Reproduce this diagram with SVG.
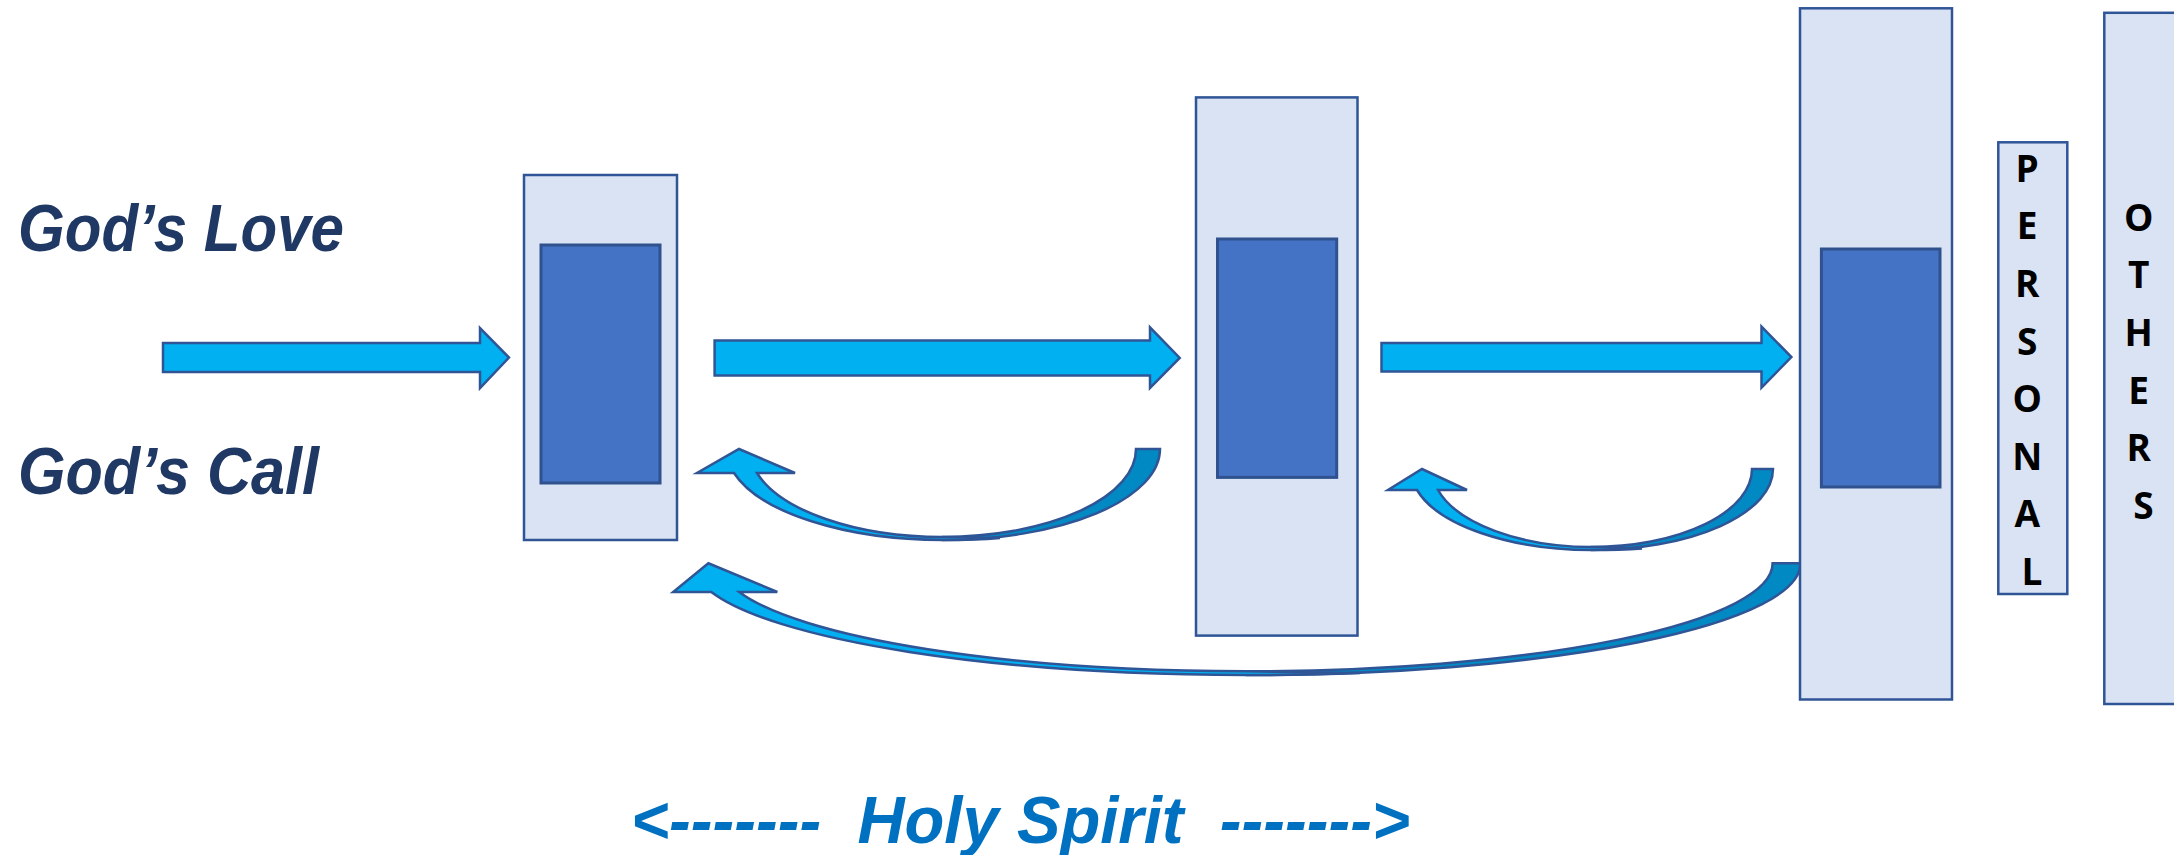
<svg xmlns="http://www.w3.org/2000/svg" width="2174" height="855" viewBox="0 0 2174 855">
<style>
.outer{fill:#DAE3F3;stroke:#2F5597;stroke-width:2.5}
.inner{fill:#4472C4;stroke:#2F528F;stroke-width:3}
.arrow{fill:#00B0F0;stroke:#2F5597;stroke-width:2.5;stroke-linejoin:miter}
.dark{fill:#0089C2;stroke:#2F5597;stroke-width:2.5}
.big{font-family:"Liberation Sans",Arial,sans-serif;font-weight:bold;font-style:italic;font-size:66px}
.love{fill:#1F3864}
.spirit{fill:#0070C0}
.letters{font-family:"Open Sans","Liberation Sans",sans-serif;font-weight:bold;font-size:37px;fill:#000;text-anchor:middle}
</style>
<rect width="2174" height="855" fill="#FFFFFF"/>

<g id="label-love"><text class="big love" x="18" y="251" textLength="326" lengthAdjust="spacingAndGlyphs">God’s Love</text></g>
<g id="label-call"><text class="big love" x="18" y="494" textLength="301" lengthAdjust="spacingAndGlyphs">God’s Call</text></g>

<g id="connectors">
  <polygon id="arrow1" class="arrow" points="163,343 480,343 480,328 509,357.5 480,388 480,372 163,372"/>
  <polygon id="arrow2" class="arrow" points="714.6,340.4 1150,340.4 1150,327.4 1179.7,358 1150,388 1150,375.6 714.6,375.6"/>
  <polygon id="arrow3" class="arrow" points="1381.5,343 1761.5,343 1761.5,326.6 1791.4,357 1761.5,387.6 1761.5,371.6 1381.5,371.6"/>

  <g id="curve1">
    <path class="dark" d="M1136,449 L1160,449 A217,91 0 0 1 943,540 L943,537 A193,88 0 0 0 1136,449 Z"/>
    <path class="arrow" d="M757,473 L795,473 L739,449 L697,473 L734,473 A217,91 0 0 0 943,540 Q975,540 1000,538 Q970,537.5 943,537 A193,88 0 0 1 757,473 Z"/>
  </g>
  <g id="curve2">
    <path class="dark" d="M1752,469 L1773,469 A181,81 0 0 1 1592,550 L1592,547 A160,78 0 0 0 1752,469 Z"/>
    <path class="arrow" d="M1438,490 L1467,490 L1422,469 L1388,490 L1417,490 A181,81 0 0 0 1592,550 Q1620,550 1642,548.5 Q1615,547.5 1592,547 A160,78 0 0 1 1438,490 Z"/>
  </g>
  <g id="curve3">
    <path class="dark" d="M1772.6,563.3 L1800.5,563.3 A553.5,111.7 0 0 1 1247,675 L1247,671.3 A526,108 0 0 0 1772.6,563.3 Z"/>
    <path class="arrow" d="M739.2,592 L777.3,592 L708.4,563.3 L673.2,592 L711.3,592 A553.5,111.7 0 0 0 1247,675 Q1310,675 1360,673 Q1300,672 1247,671.3 A526,108 0 0 1 739.2,592 Z"/>
  </g>
</g>

<g id="box1">
  <rect class="outer" x="524" y="175" width="153" height="365"/>
  <rect class="inner" x="541" y="245" width="119" height="238"/>
</g>
<g id="box2">
  <rect class="outer" x="1196" y="97.4" width="161.5" height="538.2"/>
  <rect class="inner" x="1217.5" y="239" width="119.2" height="238.4"/>
</g>
<g id="box3">
  <rect class="outer" x="1800" y="8.3" width="152" height="691.2"/>
  <rect class="inner" x="1821.4" y="249" width="118.6" height="238"/>
</g>
<g id="personal">
  <rect class="outer" x="1998.3" y="142.3" width="69" height="451.7"/>
  <text class="letters" x="2032">
    <tspan x="2032" y="181.7">P</tspan>
    <tspan x="2032" y="239.3">E</tspan>
    <tspan x="2032" y="296.9">R</tspan>
    <tspan x="2032" y="354.5">S</tspan>
    <tspan x="2032" y="412.1">O</tspan>
    <tspan x="2032" y="469.7">N</tspan>
    <tspan x="2032" y="527.3">A</tspan>
    <tspan x="2032" y="584.9">L</tspan>
  </text>
</g>
<g id="others">
  <rect class="outer" x="2104.3" y="12.8" width="80" height="691.2"/>
  <text class="letters" x="2143.5">
    <tspan x="2143.5" y="230.5">O</tspan>
    <tspan x="2143.5" y="288.2">T</tspan>
    <tspan x="2143.5" y="345.9">H</tspan>
    <tspan x="2143.5" y="403.6">E</tspan>
    <tspan x="2143.5" y="461.3">R</tspan>
    <tspan x="2143.5" y="519">S</tspan>
  </text>
</g>

<g id="label-spirit"><text class="big spirit" x="631" y="843" textLength="779" lengthAdjust="spacingAndGlyphs" xml:space="preserve" style="white-space:pre">&lt;-------  Holy Spirit  -------&gt;</text></g>
</svg>
